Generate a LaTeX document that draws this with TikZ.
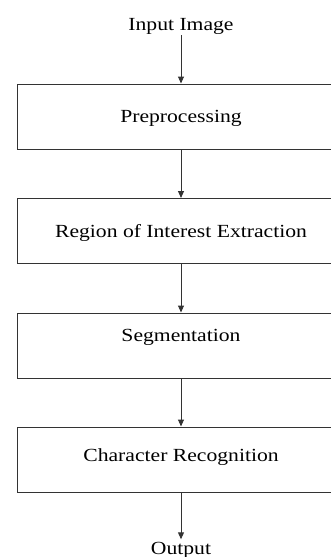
\documentclass[tikz,border=0pt]{standalone}
\usepackage{fontspec}
\setmainfont[FakeStretch=1.17]{Liberation Serif}
\usetikzlibrary{arrows.meta}

\begin{document}
\begin{tikzpicture}[x=1pt,y=-1pt,
    stage/.style={draw=black!80,line width=1pt,minimum width=328pt,minimum height=65pt,
        inner sep=0pt,text height=12.5pt,text depth=0pt,font=\fontsize{18.5}{22}\selectfont},
    term/.style={inner sep=2pt,text height=12.5pt,text depth=3pt,font=\fontsize{18.5}{22}\selectfont},
    flow/.style={-{Triangle[width=6pt,length=7pt]},line width=1pt,black!80}]
\useasboundingbox (0,0) rectangle (331,557);
\clip (0,0) rectangle (331,557);
% input and output
\node[term,anchor=base] (in) at (181,30) {Input Image};
\node[term,anchor=base] (out) at (181,554) {Output};
% the four stages
\node[stage] (pre) at (181,116.5) {Preprocessing};
\node[stage] (roi) at (181,231) {Region of Interest Extraction};
\node[stage] (seg) at (181,345.5) {\raisebox{10pt}{Segmentation}};
\node[stage] (chr) at (181,459.5) {\raisebox{4pt}{Character Recognition}};
% arrows
\draw[flow] (in) -- (pre);
\draw[flow] (pre) -- (roi);
\draw[flow] (roi) -- (seg);
\draw[flow] (seg) -- (chr);
\draw[flow] (chr) -- (out);
\end{tikzpicture}
\end{document}
